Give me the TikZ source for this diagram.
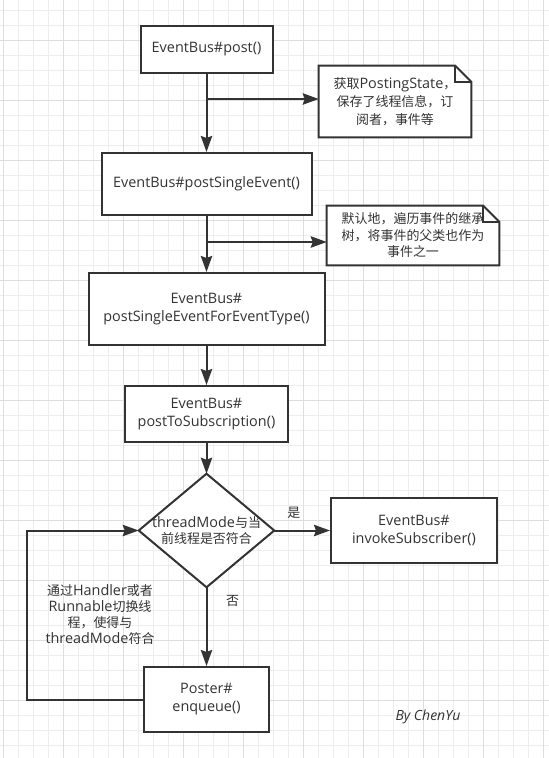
\documentclass[tikz,border=0pt]{standalone}
\usepackage{fontspec}
\setmainfont{Open Sans}
\newfontfamily\cjk[Scale=0.9]{Noto Sans CJK SC}
\usetikzlibrary{arrows.meta}
\pgfdeclarelayer{paper}
\pgfdeclarelayer{under}
\pgfsetlayers{paper,under,main}

\begin{document}
\begin{tikzpicture}[x=0.75pt, y=-0.75pt, line join=miter,
		% Styles
		minor grid/.style={draw=black!7, line width=0.75pt},
		major grid/.style={draw=black!13, line width=0.75pt},
		callbox/.style={draw=linecolor, line width=1.5pt, fill=white, text=textcolor, align=center, inner sep=0pt, font=\fontsize{10.8}{13.5}\selectfont},
		notetext/.style={text=textcolor, align=center, inner sep=0pt, font=\fontsize{10.8}{13.5}\selectfont},
		notebox/.style={draw=linecolor, line width=1.5pt, fill=white},
		flow/.style={draw=linecolor, line width=1.5pt, -{Stealth[length=12pt, width=8.5pt, inset=1.5pt]}},
		answer/.style={text=textcolor, inner sep=0pt, font=\cjk\fontsize{10.8}{13}\selectfont}
		]
		
		% Colors
		\definecolor{linecolor}{HTML}{333333}
		\definecolor{textcolor}{HTML}{333333}
		
		\useasboundingbox (0,0) rectangle (549,758);
		
		% Paper with grid
		\begin{pgfonlayer}{paper}
			\fill[white] (0,0) rectangle (549,758);
			\foreach \x in {3,18,...,548} \draw[minor grid] (\x,0) -- (\x,758);
			\foreach \y in {10,25,...,757} \draw[minor grid] (0,\y) -- (549,\y);
			\foreach \x in {3,63,...,548} \draw[major grid] (\x,0) -- (\x,758);
			\foreach \y in {40,100,...,757} \draw[major grid] (0,\y) -- (549,\y);
		\end{pgfonlayer}
		
		% Call chain
		\node[callbox, minimum width=99pt, minimum height=35.25pt] (post) at (206.5,49.5) {EventBus\#post()};
		\node[callbox, minimum width=157.5pt, minimum height=46.5pt] (single) at (206.5,184) {EventBus\#postSingleEvent()};
		\node[callbox, minimum width=177pt, minimum height=54pt] (fortype) at (206.5,309) {EventBus\#\\postSingleEventForEventType()};
		\node[callbox, minimum width=122.25pt, minimum height=42pt] (tosub) at (206.5,414) {EventBus\#\\postToSubscription()};
		\node[notetext, minimum width=101.25pt, minimum height=84.75pt, font=\fontsize{10.8}{11.5}\selectfont] (dec) at (206.5,530.5) {threadMode{\cjk 与当}\\{\cjk 前线程是否符合}};
		\node[callbox, minimum width=124.5pt, minimum height=48.75pt] (invoke) at (414,530.5) {EventBus\#\\invokeSubscriber()};
		\node[callbox, minimum width=93.75pt, minimum height=48.75pt] (poster) at (206.5,699.5) {Poster\#\\enqueue()};
		
		% Notes
		\node[notetext, minimum width=114pt, minimum height=53.25pt] (note1) at (395,101.5) {{\cjk 获取}PostingState{\cjk ，}\\{\cjk 保存了线程信息，订}\\{\cjk 阅者，事件等}};
		\node[notetext, minimum width=129pt, minimum height=44.25pt, font=\cjk\fontsize{10.8}{12.4}\selectfont] (note2) at (413,235.5) {默认地，遍历事件的继承\\树，将事件的父类也作为\\事件之一};
		
		\begin{pgfonlayer}{under}
			% decision diamond
			\draw[notebox] (dec.north) -- (dec.east) -- (dec.south) -- (dec.west) -- cycle;
			% folded notes
			\foreach \n in {note1,note2} {
				\draw[notebox] (\n.south west) -- (\n.south east) -- ([yshift=-12pt]\n.north east)
					-- ([xshift=-12pt]\n.north east) -- (\n.north west) -- cycle;
				\draw[notebox, fill=none] ([xshift=-12pt]\n.north east) -- ([xshift=-12pt, yshift=-12pt]\n.north east)
					-- ([yshift=-12pt]\n.north east);
			}
		\end{pgfonlayer}
		
		% Arrows
		\coordinate (fork1) at (206.5,99);
		\coordinate (fork2) at (206.5,242);
		\coordinate (loop) at (27,699.5);
		
		\draw[flow] (post) -- (single);
		\draw[flow] (fork1) -- (fork1 -| note1.west);
		\draw[flow] (single) -- (fortype);
		\draw[flow] (fork2) -- (fork2 -| note2.west);
		\draw[flow] (fortype) -- (tosub);
		\draw[flow] (tosub) -- (dec.north);
		\draw[flow] (dec.east) -- node[answer, pos=0.35, above=8pt] (yes) {是} (invoke);
		\draw[flow] (dec.south) -- node[answer, pos=0.17, right=14pt] (no) {否} (poster);
		\draw[flow] (poster.west) -- (loop) |- (dec.west);
		
		\node[notetext, text width=110pt, font=\fontsize{10.8}{12}\selectfont] (switch) at (100,615) {{\cjk 通过}Handler{\cjk 或者}\\Runnable{\cjk 切换线}\\{\cjk 程，使得与}\\threadMode{\cjk 符合}};
		
		% Signature
		\node[text=textcolor, inner sep=0pt, font=\itshape\fontsize{10.5}{12}\selectfont] (sign) at (428,717) {By ChenYu};
		
\end{tikzpicture}
\end{document}
